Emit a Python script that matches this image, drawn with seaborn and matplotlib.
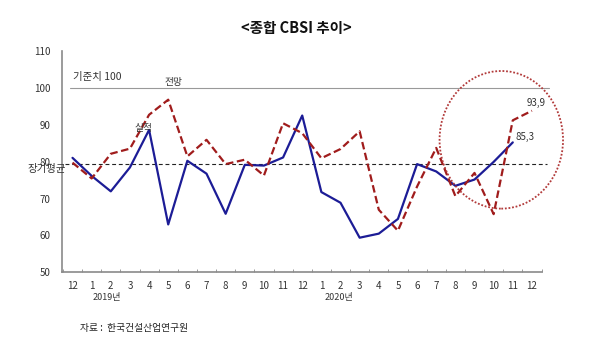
import matplotlib
matplotlib.use("Agg")
import matplotlib.pyplot as plt
from matplotlib.patches import Ellipse
import seaborn as sns
import pandas as pd

# Monthly tick labels: Dec 2018 through Dec 2020
month_labels = ["12", "1", "2", "3", "4", "5", "6", "7", "8", "9", "10", "11",
                "12", "1", "2", "3", "4", "5", "6", "7", "8", "9", "10", "11", "12"]
year_labels = ["2019년", "2020년"]

# CBSI actual (실적) and outlook (전망)
actual = [81.1, 76.2, 72.0, 78.5, 88.7, 63.0, 80.3, 76.8, 65.9, 79.2, 79.0, 81.2,
          92.6, 71.8, 68.9, 59.4, 60.5, 64.5, 79.4, 77.4, 73.5, 75.2, 80.0, 85.3]
outlook = [79.8, 75.5, 82.2, 83.6, 92.8, 96.9, 81.5, 86.0, 79.4, 80.6, 76.3, 90.5,
           87.8, 81.0, 83.5, 88.3, 67.0, 61.3, 73.3, 83.8, 70.7, 77.0, 65.8, 91.3, 93.9]
baseline = 100
long_term_avg = 79.4

df = pd.concat([
    pd.DataFrame({"idx": range(len(actual)), "value": actual, "series": "실적"}),
    pd.DataFrame({"idx": range(len(outlook)), "value": outlook, "series": "전망"}),
])

sns.set_style("white")
plt.rcParams["font.family"] = ["Noto Sans CJK KR", "DejaVu Sans"]

fig = plt.figure(figsize=(6.0, 3.47), dpi=100)
ax = fig.add_axes([0.1033, 0.2153, 0.7992, 0.6363])

navy = "#1c1c96"
dark_red = "#a01c1c"

sns.lineplot(data=df, x="idx", y="value", hue="series", style="series",
             palette={"실적": navy, "전망": dark_red},
             dashes={"실적": "", "전망": (3.4, 1.6)},
             linewidth=1.6, legend=False, ax=ax)

# Reference level and long-term average
ax.plot([-0.15, 24.9], [baseline, baseline], color="#999999", lw=0.8,
        clip_on=False, zorder=1)
ax.plot([-0.4, 24.8], [long_term_avg, long_term_avg], color="#222222", lw=0.8,
        ls=(0, (3.5, 2.5)), clip_on=False, zorder=1)

# Highlight of the latest months
ax.add_patch(Ellipse((22.4, 86.0), 6.45, 37.4, fill=False, edgecolor="#b23a3a",
                     lw=1.3, ls=(0, (1, 1)), clip_on=False, zorder=3))

ax.set_xlim(-0.55, 24.5)
ax.set_ylim(50, 110)
ax.set_yticks(range(50, 111, 10))
ax.set_xticks(range(len(month_labels)))
ax.set_xticklabels(month_labels)
ax.set_xticks([i + 0.5 for i in range(-1, len(month_labels))], minor=True)
ax.set_xlabel("")
ax.set_ylabel("")

for side in ("top", "right"):
    ax.spines[side].set_visible(False)
for side in ("left", "bottom"):
    ax.spines[side].set_color("#8a8a8a")
    ax.spines[side].set_linewidth(1.2)

ax.tick_params(axis="x", which="major", length=0, pad=6, labelsize=7, labelcolor="#333333")
ax.tick_params(axis="x", which="minor", direction="in", length=2.5, color="#8a8a8a",
               bottom=True)
ax.tick_params(axis="y", length=2.5, color="#8a8a8a", labelsize=7, labelcolor="#333333",
               pad=6)

# Annotations
ax.text(0.0, 103.2, "기준치 100", fontsize=7.5, color="#333333", va="center", ha="left")
ax.text(5.3, 101.6, "전망", fontsize=7, color="#333333", va="center", ha="center")
ax.text(3.7, 89.2, "실적", fontsize=7, color="#333333", va="center", ha="center")
ax.text(-1.35, 78.0, "장기평균", fontsize=7.5, color="#333333", va="center", ha="center",
        clip_on=False)
ax.text(23.15, actual[-1] + 1.5, "85,3", fontsize=7, color="#333333", va="center", ha="left")
ax.text(23.7, outlook[-1] + 2.0, "93,9", fontsize=7, color="#333333", va="center", ha="left")

# Year labels under the month ticks
ax.text(1.8, -0.115, year_labels[0], transform=ax.get_xaxis_transform(), fontsize=6.5,
        color="#333333", ha="center", va="center")
ax.text(13.9, -0.115, year_labels[1], transform=ax.get_xaxis_transform(), fontsize=6.5,
        color="#333333", ha="center", va="center")

fig.text(0.494, 0.918, "<종합 CBSI 추이>", fontsize=10.5, fontweight="bold",
         ha="center", va="center", color="#111111")
fig.text(0.133, 0.055, "자료 :  한국건설산업연구원", fontsize=7, ha="left", va="center",
         color="#222222")

fig.savefig("out.png", dpi=100)
